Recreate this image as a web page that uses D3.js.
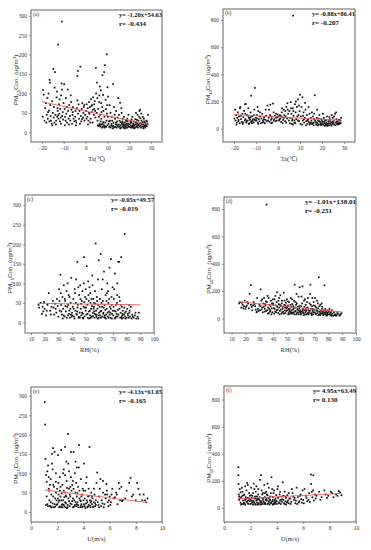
<!DOCTYPE html>
<html><head><meta charset="utf-8">
<script src="https://cdn.jsdelivr.net/npm/d3@7"></script>
<style>body{margin:0;background:#fff}svg{display:block}</style>
</head><body><svg id="c" width="371" height="550"></svg>
<script>
// ---------- data ----------
const taTicks=[-20,-10,0,10,20,30];
const rhTicks=[10,20,30,40,50,60,70,80,90,100];
const uTicks=[0,2,4,6,8,10];
const pm25Ticks=[0,50,100,150,200,250,300];
const pm10Ticks=[0,200,400,600,800];
const panelLabels=["(a)","(b)","(c)","(d)","(e)","(f)"];
const equations=["y= -1.20x+54.63","y= -0.88x+86.41","y= -0.05x+49.57","y= -1.01x+138.01","y= -4.13x+61.05","y= 4.95x+63.49"];
const rTexts=["r= -0.434","r= -0.207","r= -0.019","r= -0.251","r= -0.165","r= 0.130"];
const slopes=[-1.20,-0.88,-0.05,-1.01,-4.13,4.95];
const intercepts=[54.63,86.41,49.57,138.01,61.05,63.49];
const fitRanges=[[-20,29],[-20,29],[15,90],[15,90],[1.05,8.9],[1.05,8.9]];
const xTitles=["Ta(℃)","Ta(℃)","RH(%)","RH(%)","U(m/s)","U(m/s)"];
const pollutant=["2.5","10","2.5","10","2.5","10"];

const pointsA=[[-19.6,40],[-19.5,109],[-19.2,97],[-18.8,30],[-18.5,62],[-18,25],[-17.8,45],[-17.5,88],[-17.3,35],[-17,100],[-16.8,56],[-16.5,135],[-16.3,128],[-16.2,70],[-16,42],[-15.8,30],[-15.5,22],[-15.3,80],[-15,50],[-14.8,163],[-14.6,38],[-15.2,18],[-16.6,28],[-18.2,75],[-17.2,52],
[-14.5,65],[-14.2,115],[-14,155],[-13.8,45],[-13.5,30],[-13.3,90],[-13,40],[-12.8,55],[-12.6,226],[-12.4,35],[-12.2,72],[-12,48],[-11.8,28],[-11.6,60],[-11.4,38],[-11.2,95],[-11,126],[-10.9,285],[-10.7,42],[-10.5,52],[-10.3,33],[-10.1,75],[-13.6,20],[-12.9,62],[-11.9,85],[-14.3,25],[-13.1,105],[-10.8,110],[-11.3,22],[-12.5,44],
[-9.8,124],[-9.6,60],[-9.4,40],[-9.2,30],[-9,88],[-8.8,48],[-8.5,25],[-8.2,110],[-8,55],[-7.8,35],[-7.5,70],[-7.2,42],[-7,30],[-6.8,95],[-6.5,58],[-6.2,22],[-6,45],[-5.8,65],[-5.5,35],[-5.2,28],[-9.5,18],[-8.6,65],[-7.6,20],[-6.6,78],[-5.9,52],
[-4.8,40],[-4.5,30],[-4.2,25],[-4,62],[-3.8,145],[-3.5,158],[-3.2,72],[-3,35],[-2.8,55],[-2.4,169],[-2.2,42],[-2,28],[-1.8,60],[-1.5,75],[-1.2,38],[-1,50],[-0.8,65],[-0.5,30],[-0.2,45],[-4.4,18],[-3.4,48],[-2.6,22],[-1.6,34],[-0.6,70],[-4.6,55],[-3.7,82],
[0.2,55],[0.5,72],[0.8,40],[1,62],[1.3,30],[1.5,78],[1.8,48],[2,65],[2.3,35],[2.5,85],[2.8,52],[3,70],[3.2,25],[3.5,90],[3.8,45],[4,60],[4.2,80],[4.5,38],[4.7,166],[4.8,100],[1.1,20],[2.1,25],[3.3,58],[0.4,35],[1.6,50],[2.7,68],[3.9,72],[4.4,55],
[5.2,128],[5.4,88],[5.6,18],[5.8,60],[6,16],[6.2,78],[6.4,22],[6.5,118],[6.7,45],[6.8,15],[7,108],[7.2,35],[7.4,20],[7.6,65],[7.7,147],[7.9,14],[8,96],[8.2,55],[8.4,18],[8.5,155],[8.6,40],[8.8,173],[9,25],[9.2,84],[9.4,14],[9.7,201],[9.8,48],[10,116],[10,18],[5.5,30],[6.1,40],[6.9,28],[7.5,12],[8.1,26],[8.9,16],[9.6,30],[5.9,16],[6.6,19],[7.8,22],[8.7,12],[9.3,60],[6.3,95],[7.1,75],[9.9,70],[5.1,50],[7.3,52],
[10.3,92],[10.5,22],[10.8,14],[11,70],[11.2,30],[11.5,12],[11.8,18],[12,40],[12.3,15],[12.6,124],[12.8,25],[13,65],[13.2,13],[13.5,35],[13.8,20],[14,55],[14.2,12],[14.5,28],[14.8,16],[15,88],[10.2,40],[10.7,28],[11.4,50],[11.9,22],[12.2,30],[12.7,16],[13.3,45],[13.7,14],[14.3,20],[14.7,38],[11.1,15],[12.5,10],[13.9,25],
[15.2,20],[15.4,14],[15.6,30],[15.8,76],[16,18],[16.2,12],[16.4,62],[16.6,22],[16.8,15],[17,35],[17.2,20],[17.4,12],[17.6,40],[17.8,18],[18,25],[18.2,14],[18.4,30],[18.6,16],[18.8,22],[19,12],[19.2,28],[19.4,18],[19.6,45],[19.8,14],[15.3,45],[16.1,26],[16.9,28],[17.5,16],[18.3,20],[19.1,35],[15.9,10],[17.1,24],[18.7,12],[19.5,22],[16.5,50],[18.9,30],[17.9,10],
[20,20],[20.2,14],[20.4,30],[20.6,18],[20.8,12],[21,25],[21.2,16],[21.4,40],[21.6,12],[21.8,22],[22,15],[22.2,28],[22.4,18],[22.6,12],[22.8,34],[23,20],[23.2,14],[23.4,25],[23.6,16],[23.8,45],[24,12],[24.2,30],[24.4,20],[24.6,55],[24.8,15],[20.5,24],[21.1,33],[21.7,18],[22.3,10],[22.9,25],[23.5,32],[24.1,18],[24.5,40],[20.9,28],[23.1,50],[24.9,24],[22.1,20],[21.5,14],[23.7,22],
[25,58],[25.2,18],[25.4,12],[25.6,30],[25.8,22],[26,15],[26.2,40],[26.4,20],[26.6,14],[26.8,28],[27,18],[27.2,25],[27.4,12],[27.6,20],[27.8,30],[28,16],[28.3,22],[28.6,45],[25.5,48],[26.1,26],[26.7,35],[27.3,16],[28.1,28],[25.1,36],[26.5,10],[27.9,20]];

const pointsB=[[-19.5,140],[-19.3,60],[-19,100],[-18.7,45],[-18.5,80],[-18.2,120],[-18,55],[-17.7,90],[-17.4,40],[-17.1,160],[-16.8,70],[-16.5,50],[-16.2,110],[-16,35],[-15.7,85],[-15.4,130],[-15.1,60],[-15,180],[-19.8,75],[-18.9,30],[-17.9,65],[-16.9,95],[-15.9,45],[-17.3,150],
[-14.8,70],[-14.6,182],[-14.4,45],[-14.1,100],[-13.8,60],[-13.5,150],[-13.2,80],[-13,40],[-12.7,65],[-12.4,120],[-12.2,243],[-12,55],[-11.7,90],[-11.4,70],[-11.1,45],[-10.8,140],[-10.5,300],[-10.3,60],[-10.1,80],[-14.3,55],[-13.6,95],[-12.9,75],[-12.1,50],[-11.5,60],[-10.9,100],[-13.3,35],[-11.9,40],[-10.6,68],[-14.9,110],[-12.5,85],
[-9.8,60],[-9.5,100],[-9.2,45],[-9,130],[-8.7,70],[-8.4,55],[-8.1,90],[-7.8,40],[-7.5,75],[-7.2,110],[-6.9,60],[-6.6,50],[-6.3,85],[-6,40],[-5.7,65],[-5.4,95],[-5.1,55],[-9.6,75],[-8.9,35],[-8.2,120],[-7.1,45],[-6.4,70],[-5.6,140],[-9.3,160],
[-4.8,170],[-4.5,60],[-4.2,80],[-3.9,50],[-3.6,100],[-3.5,177],[-3.2,65],[-2.9,90],[-2.6,45],[-2.3,185],[-2,120],[-1.7,70],[-1.4,95],[-1.1,55],[-0.8,80],[-0.5,60],[-0.2,105],[-4.1,140],[-3.1,40],[-1.9,60],[-0.9,110],[-2.8,75],[-0.4,85],
[0.2,90],[0.5,60],[0.8,100],[1.1,75],[1.4,50],[1.7,120],[2,85],[2.3,65],[2.6,140],[2.9,100],[3.2,55],[3.5,90],[3.8,160],[4.1,75],[4.3,187],[4.6,110],[4.9,60],[1.2,95],[2.1,40],[3.3,130],[0.7,70],[3.7,45],[4.4,140],[2.7,80],[1.9,150],
[5.2,130],[5.5,80],[5.8,195],[6.1,110],[6.4,60],[6.7,150],[6.9,832],[7.1,95],[7.4,45],[7.7,180],[8,120],[8.3,70],[8.6,160],[9.1,216],[9.3,100],[9.6,55],[10,250],[5.4,40],[6.2,35],[7,130],[7.9,40],[8.8,90],[9.8,130],[5.9,150],[6.6,70],[8.1,200],[9.5,170],[7.5,60],[10.2,35],[9,60],[6.8,30],
[10.4,90],[10.7,160],[11.1,231],[11.3,60],[11.6,120],[11.9,45],[12.2,80],[12.5,140],[12.8,55],[13.1,100],[13.4,35],[13.7,70],[14,50],[14.3,110],[14.6,40],[14.9,80],[10.9,30],[11.8,70],[12.7,25],[13.5,60],[14.4,30],[15,45],[12.3,190],[13.9,160],[11.4,95],
[15.2,60],[15.5,35],[15.8,90],[16.1,45],[16.4,70],[16.7,246],[17,50],[17.3,30],[17.6,80],[17.9,40],[18.2,60],[18.5,30],[18.8,100],[19.1,50],[19.4,40],[19.7,70],[20,35],[15.4,120],[16.2,25],[16.9,60],[17.5,45],[18.1,25],[18.7,55],[19.3,30],[16.5,110],[19.9,60],[15.9,40],[17.8,140],[18.4,75],[19.6,28],
[20.2,50],[20.5,30],[20.8,80],[21.1,40],[21.4,60],[21.7,25],[22,45],[22.3,90],[22.6,35],[22.9,55],[23.2,25],[23.5,70],[23.8,40],[24.1,30],[24.4,100],[24.7,50],[25,35],[20.4,110],[21.2,20],[21.9,65],[22.5,20],[23.1,40],[23.7,55],[24.3,22],[24.9,80],[20.9,50],[22.2,30],[23.4,85],[24.6,45],[21.6,35],
[25.3,60],[25.6,30],[25.9,110],[26.2,45],[26.5,70],[26.8,35],[27.1,55],[27.4,40],[27.7,65],[28,45],[28.3,60],[28.7,80],[25.5,90],[26.1,25],[26.7,50],[27.3,30],[27.9,35],[25.1,45],[26.4,120],[28.5,40]];

const pointsC=[[15.5,45],[17,50],[18,22],[18.5,40],[19,28],[20,35],[21,18],[22,45],[23,75],[24,30],[25,40],[26,55],[27,20],[28,35],[28.5,25],[29,60],[30,15],[19.5,52],[24.5,20],[26.5,38],[29.5,42],[21.5,30],[27.5,48],[16,38],
[30.5,85],[31,30],[31.5,122],[32,45],[32.5,20],[33,65],[33.5,35],[34,95],[34.5,15],[35,55],[35.5,28],[36,80],[36.5,40],[37,18],[37.5,70],[38,30],[38.5,12],[39,50],[39.5,114],[40,25],[30.8,55],[32.2,28],[33.8,18],[35.2,42],[36.8,100],[37.8,22],[38.8,35],[39.8,15],[34.8,60],[31.8,75],[36.2,12],[37.2,45],[33.2,10],[38.2,65],[39.2,20],
[40.5,40],[41,60],[41.5,15],[42,85],[42.5,30],[43,110],[43.5,20],[43.9,155],[44.3,45],[44.8,12],[45.2,70],[45.6,25],[46,95],[46.4,35],[46.8,18],[47.2,55],[47.6,80],[48,22],[48.4,40],[48.8,167],[49.2,15],[49.6,65],[50,30],[40.2,18],[41.8,10],[42.8,50],[43.8,28],[44.6,90],[45.8,12],[46.6,48],[47.4,25],[48.6,100],[49.4,38],[50,85],[41.2,35],[43.2,22],[45,14],[46.2,60],[47.8,12],[49,52],[42.2,75],[44,38],[48.2,10],
[50.5,20],[50.8,144],[51.2,45],[51.6,12],[52,70],[52.4,28],[52.8,90],[53.2,18],[53.6,50],[54,35],[54.4,15],[54.8,120],[55.2,25],[55.6,60],[56,40],[56.4,12],[56.8,80],[57.3,202],[57.6,30],[58,20],[58.4,55],[58.8,10],[59.2,45],[59.5,159],[59.8,25],[50.2,38],[51.4,22],[52.2,55],[53,30],[53.8,12],[54.6,42],[55.4,16],[56.2,28],[57,48],[57.8,14],[58.6,35],[59.4,18],[51.8,105],[53.4,75],[55,95],[56.6,22],[58.2,65],[59,110],[52.6,10],[54.2,60],[55.8,35],[57.4,20],[59.6,12],[50.6,60],[56.1,50],
[60.2,40],[60.6,18],[61,175],[61.4,30],[61.8,85],[62.2,15],[62.6,55],[63,25],[63.4,130],[63.8,45],[64.2,12],[64.6,70],[65,20],[65.4,35],[65.8,100],[66.2,15],[66.6,50],[67,28],[67.4,140],[67.8,40],[68.2,12],[68.5,162],[68.9,65],[69.3,22],[69.7,90],[60.4,60],[61.2,12],[62,40],[62.8,22],[63.6,14],[64.4,32],[65.2,55],[66,25],[66.8,12],[67.6,20],[68.4,35],[69.2,10],[60.8,28],[62.4,110],[64,18],[65.6,75],[67.2,60],[69,45],[63.2,38],[66.4,80],[68,25],[61.6,50],[64.8,10],[69.8,30],
[70.2,18],[70.6,60],[71,30],[71.4,125],[71.8,12],[72.2,45],[72.6,22],[73,70],[73.4,15],[73.8,155],[74.4,155],[74.8,35],[75.2,12],[75.6,25],[76,167],[76.4,40],[76.8,18],[77.2,30],[77.6,12],[78,20],[78.5,226],[79,15],[79.5,28],[80,12],[70.4,40],[71.2,10],[72,28],[72.8,50],[73.6,32],[74,20],[75,55],[76.2,14],[77,22],[78.2,38],[79.2,10],[70.8,85],[72.4,15],[74.6,65],[76.6,10],[78.8,25],[73.2,100],[75.8,45],
[80.5,35],[81,18],[81.5,12],[82,25],[82.5,15],[83,40],[83.5,10],[84,20],[85,12],[86,18],[87,10],[88,15],[89,25],[80.8,22],[82.2,30],[84.5,15],[86.5,25],[88.5,10],[81.8,45]];

const pointsD=[[15.5,110],[16,120],[17,80],[18,100],[19,90],[19.5,130],[20,70],[21,95],[22,110],[23,181],[23.9,244],[24.5,85],[25,60],[26,120],[27,90],[28,45],[28.5,150],[29,70],[30,100],[17.5,115],[20.5,85],[22.5,75],[25.5,95],[27.5,65],[29.5,55],[18.5,75],[21.5,120],[26.5,105],[24,100],[28.2,50],
[30.5,60],[31,213],[31.5,130],[32,80],[32.5,45],[33,110],[33.5,150],[34,70],[34.5,95],[35,55],[35.3,832],[35.6,120],[36,165],[36.5,80],[37,40],[37.5,100],[38,60],[38.5,130],[39,75],[39.5,45],[40,110],[30.8,90],[32.2,140],[33.8,50],[34.8,125],[36.2,35],[37.2,70],[38.2,90],[39.2,110],[31.7,65],[33.3,85],[35.8,60],[37.8,50],[39.8,140],[36.8,150],[34.2,105],[38.8,30],
[40.5,75],[41,140],[41.5,50],[42,95],[42.5,120],[42.9,191],[43.3,65],[43.7,40],[44.1,105],[44.5,80],[44.9,55],[45.3,170],[45.7,90],[46.1,35],[46.5,130],[46.9,70],[47.3,50],[47.7,188],[48.1,100],[48.5,60],[48.9,40],[49.3,115],[49.7,75],[50,140],[40.2,100],[41.2,70],[42.2,45],[43,85],[43.9,130],[44.7,30],[45.5,65],[46.3,110],[47.1,85],[47.9,35],[48.7,80],[49.5,55],[41.7,165],[44.3,150],[46.7,45],[49,95],[42.7,60],[45,100],[48.3,130],[40.8,35],
[50.4,60],[50.8,95],[51.2,40],[51.6,120],[52,70],[52.4,50],[52.8,150],[53.2,85],[53.6,35],[54,105],[54.4,65],[54.8,45],[55.2,130],[55.6,247],[56,80],[56.4,55],[56.8,30],[57.2,110],[57.6,70],[58,45],[58.4,160],[58.8,90],[59.2,228],[59.6,60],[60,35],[50.2,80],[51,30],[51.8,55],[52.6,100],[53.4,60],[54.2,40],[55,75],[55.8,50],[56.6,100],[57.4,40],[58.2,60],[59,75],[59.8,45],[50.6,125],[52.2,35],[53.8,140],[55.4,30],[57,180],[58.6,30],[54.6,90],[56.2,120],[57.8,85],[59.4,50],[51.4,70],[53,45],
[60.4,90],[60.8,50],[61.3,235],[61.6,70],[62,40],[62.4,130],[62.8,60],[63.2,30],[63.6,100],[64,55],[64.4,75],[64.8,35],[65.2,150],[65.6,60],[66,45],[66.4,110],[67,247],[67.4,70],[67.8,40],[68.2,90],[68.6,55],[69,30],[69.4,120],[69.8,65],[60.2,30],[61,110],[61.8,45],[62.6,85],[63.4,45],[64.2,30],[65,80],[65.8,30],[66.6,55],[67.6,35],[68.4,150],[69.2,45],[60.6,160],[62.2,25],[63.8,70],[65.4,40],[66.8,180],[68,25],[69.6,95],[64.6,120],[61.4,60],[63,140],[67.2,100],[68.8,70],
[70.2,45],[70.6,90],[71,30],[71.4,60],[71.8,130],[72.2,40],[72.6,75],[73.1,301],[73.4,50],[73.8,30],[74.2,100],[74.6,55],[75,35],[75.4,70],[75.8,40],[76.2,25],[76.6,60],[77.2,242],[77.6,45],[78,30],[78.4,55],[78.8,35],[79.2,25],[79.6,45],[80,30],[70.4,150],[71.2,80],[72,55],[72.8,25],[73.6,90],[74.4,40],[75.2,110],[76,50],[76.8,30],[77.8,70],[78.6,20],[79.4,60],[70.8,35],[72.4,110],[74,25],[75.6,85],[77,40],[79,40],
[80.5,50],[81,30],[81.5,40],[82,25],[82.5,60],[83,35],[83.5,20],[84,45],[85,30],[86,25],[87,35],[88,20],[89,30],[89.5,40],[80.8,70],[82.2,20],[84.5,25],[86.5,40],[88.5,28],[81.8,45],[85.5,20]];

const pointsE=[[1.05,284],[1.08,226],[1.1,137],[1.15,95],[1.2,78],[1.25,20],[1.3,120],[1.35,60],[1.4,30],[1.45,15],[1.5,85],[1.55,45],[1.6,125],[1.65,22],[1.68,165],[1.7,70],[1.75,12],[1.8,155],[1.85,35],[1.9,100],[1.95,18],[1.2,40],[1.3,15],[1.4,55],[1.5,25],[1.6,12],[1.7,40],[1.8,20],[1.9,50],[1.35,90],[1.55,12],[1.75,65],[1.95,30],[1.15,18],[1.45,70],[1.65,110],[1.85,14],[1.25,105],[1.6,150],[1.5,14],[1.9,78],
[2,60],[2.06,147],[2.1,25],[2.15,12],[2.2,90],[2.25,40],[2.3,160],[2.35,18],[2.4,70],[2.45,30],[2.5,110],[2.55,14],[2.59,168],[2.62,50],[2.67,22],[2.72,80],[2.75,10],[2.82,202],[2.85,35],[2.9,60],[2.95,15],[2.0,20],[2.1,45],[2.2,14],[2.3,30],[2.4,12],[2.5,55],[2.6,25],[2.7,40],[2.8,18],[2.9,28],[2.05,35],[2.25,65],[2.45,100],[2.65,12],[2.85,125],[2.15,30],[2.35,48],[2.55,38],[2.75,62],[2.95,45],[2.4,20],[2.6,95],[2.8,12],[2.2,55],[2.7,130],[2.5,18],[2.9,105],[2.3,12],[2.1,75],[2.65,42],
[3,40],[3.05,155],[3.1,20],[3.15,70],[3.2,12],[3.25,155],[3.3,30],[3.35,100],[3.4,50],[3.45,15],[3.5,115],[3.55,25],[3.6,65],[3.66,173],[3.7,35],[3.75,12],[3.8,85],[3.85,20],[3.9,45],[3.95,14],[3.0,22],[3.1,55],[3.2,35],[3.3,14],[3.4,25],[3.5,40],[3.6,18],[3.7,55],[3.8,28],[3.9,12],[3.05,90],[3.25,60],[3.45,75],[3.65,115],[3.85,40],[3.15,28],[3.35,18],[3.55,48],[3.75,30],[3.95,60],[3.2,80],[3.6,12],[3.4,130],[3.8,16],[3.0,65],[3.5,20],
[4,30],[4.05,125],[4.1,15],[4.15,55],[4.2,22],[4.25,90],[4.3,12],[4.35,40],[4.4,18],[4.47,168],[4.5,30],[4.55,12],[4.6,50],[4.65,20],[4.7,35],[4.75,14],[4.8,25],[4.85,45],[4.9,15],[4.95,30],[4.0,55],[4.1,35],[4.2,75],[4.3,25],[4.4,60],[4.5,16],[4.6,28],[4.8,60],[4.9,22],[4.15,10],[4.45,42],[4.75,12],[4.25,30],[4.65,40],[4.05,20],[4.35,14],[4.55,24],[4.95,18],
[5,75],[5.05,102],[5.1,25],[5.2,40],[5.3,85],[5.35,15],[5.4,30],[5.5,50],[5.6,20],[5.7,35],[5.75,72],[5.8,45],[5.9,15],[5.95,30],[5.15,18],[5.25,60],[5.45,22],[5.55,12],[5.65,45],[5.85,25],[5.5,80],[5.2,12],[5.8,55],
[6,40],[6.1,25],[6.2,60],[6.3,35],[6.5,50],[6.6,20],[6.7,75],[6.8,30],[6.9,65],[6.15,45],[6.4,38],[6.75,60],[6.95,28],[6.05,18],[6.55,45],
[7.2,35],[7.5,75],[7.6,88],[7.8,45],[8,30],[8.1,75],[8.3,45],[8.5,30],[8.6,45],[8.8,25],[8.9,35],[7.3,55],[7.7,40],[8.2,60],[8.7,30],[7.0,30]];

const pointsF=[[1.09,301],[1.09,242],[1.1,178],[1.12,100],[1.15,60],[1.2,140],[1.25,40],[1.3,80],[1.35,30],[1.4,120],[1.45,55],[1.5,95],[1.55,35],[1.6,160],[1.65,65],[1.7,45],[1.75,185],[1.8,75],[1.85,30],[1.9,110],[1.95,50],[1.2,70],[1.3,25],[1.4,90],[1.5,40],[1.6,60],[1.7,130],[1.8,35],[1.9,70],[1.35,150],[1.55,100],[1.75,50],[1.95,90],[1.25,115],[1.45,30],[1.65,80],[1.85,55],[1.15,85],[1.6,25],[1.8,170],
[2,60],[2.05,150],[2.1,35],[2.15,90],[2.2,45],[2.25,180],[2.3,70],[2.35,30],[2.4,120],[2.45,55],[2.5,85],[2.55,25],[2.6,140],[2.65,65],[2.73,208],[2.8,242],[2.85,40],[2.9,100],[2.95,60],[2.0,30],[2.1,75],[2.2,110],[2.3,40],[2.4,25],[2.5,60],[2.6,35],[2.7,80],[2.8,50],[2.9,30],[2.05,95],[2.25,50],[2.45,160],[2.65,28],[2.85,130],[2.15,45],[2.35,85],[2.55,70],[2.75,40],[2.95,110],[2.3,140],[2.7,55],[2.2,25],[2.6,100],[2.4,70],[2.8,25],[2.5,40],[2.9,75],[2.1,55],
[3,45],[3.05,170],[3.1,80],[3.15,30],[3.2,120],[3.25,55],[3.3,95],[3.35,35],[3.4,150],[3.45,65],[3.5,40],[3.6,227],[3.55,110],[3.65,50],[3.7,80],[3.75,30],[3.8,130],[3.85,60],[3.9,40],[3.95,95],[3.0,75],[3.1,40],[3.2,65],[3.3,30],[3.4,50],[3.5,85],[3.6,35],[3.7,60],[3.8,45],[3.9,70],[3.05,30],[3.25,100],[3.45,25],[3.65,140],[3.85,30],[3.15,60],[3.35,75],[3.55,40],[3.75,110],[3.95,50],[3.3,180],[3.7,25],[3.5,60],[3.1,110],
[4,50],[4.05,140],[4.1,75],[4.15,35],[4.2,100],[4.25,55],[4.3,30],[4.35,85],[4.4,45],[4.45,190],[4.5,60],[4.55,35],[4.6,120],[4.65,50],[4.7,75],[4.75,40],[4.8,95],[4.85,55],[4.9,35],[4.95,70],[4.0,30],[4.2,40],[4.4,65],[4.6,30],[4.8,45],[4.1,160],[4.3,60],[4.5,90],[4.7,25],[4.9,110],[4.25,120],[4.65,85],
[5,70],[5.1,45],[5.2,110],[5.3,60],[5.4,35],[5.5,150],[5.6,80],[5.7,50],[5.8,100],[5.9,40],[5.95,130],[5.05,30],[5.25,85],[5.45,55],[5.65,40],[5.85,65],[5.15,140],[5.55,30],[5.75,90],[5.35,75],
[6,60],[6.1,140],[6.2,90],[6.3,50],[6.45,110],[6.59,247],[6.77,242],[6.6,178],[6.65,120],[6.7,80],[6.8,55],[6.9,100],[6.05,35],[6.25,75],[6.5,45],[6.75,130],[6.95,70],[6.4,60],
[7,90],[7.2,120],[7.4,80],[7.6,130],[7.7,100],[7.9,90],[8.1,120],[8.3,80],[8.5,100],[8.7,125],[8.9,95],[7.3,60],[7.8,75],[8.2,110],[8.6,90],[8.8,115]];

const allPoints=[pointsA,pointsB,pointsC,pointsD,pointsE,pointsF];
const xTickSets=[taTicks,taTicks,rhTicks,rhTicks,uTicks,uTicks];
const yTickSets=[pm25Ticks,pm10Ticks,pm25Ticks,pm10Ticks,pm25Ticks,pm10Ticks];

// ---------- layout ----------
const layout=[
 {x0:31,x1:162,y0:10,y1:142,xd:[-25,35],yd:[-25,315]},
 {x0:223,x1:355,y0:9,y1:142,xd:[-25,35],yd:[-98,881]},
 {x0:25,x1:154,y0:195,y1:333,xd:[5.6,100],yd:[-27,326]},
 {x0:224,x1:356,y0:197,y1:333,xd:[4.5,100],yd:[-106,888]},
 {x0:31,x1:162,y0:387,y1:522,xd:[0,10],yd:[-26,323]},
 {x0:224,x1:356,y0:386,y1:522,xd:[0,10],yd:[-103,900]}
];
const serif="'Liberation Serif','Times New Roman',serif";
const sans="'Liberation Sans',Arial,sans-serif";
const svg=d3.select("#c");

layout.forEach((L,i)=>{
  const x=d3.scaleLinear().domain(L.xd).range([L.x0,L.x1]);
  const y=d3.scaleLinear().domain(L.yd).range([L.y1,L.y0]);
  const g=svg.append("g");
  g.append("rect").attr("x",L.x0).attr("y",L.y0).attr("width",L.x1-L.x0).attr("height",L.y1-L.y0)
   .attr("fill","none").attr("stroke","#555").attr("stroke-width",0.9);
  const ax=g.append("g").attr("transform",`translate(0,${L.y1})`)
   .call(d3.axisBottom(x).tickValues(xTickSets[i]).tickSize(2).tickPadding(2.5));
  const ay=g.append("g").attr("transform",`translate(${L.x0},0)`)
   .call(d3.axisLeft(y).tickValues(yTickSets[i]).tickSize(2).tickPadding(2));
  [ax,ay].forEach(a=>{
    a.select(".domain").remove();
    a.selectAll("line").attr("stroke","#555").attr("stroke-width",0.6);
    a.selectAll("text").attr("font-family",serif).attr("font-size",5.5).attr("fill","#333");
  });
  g.append("g").selectAll("rect").data(allPoints[i]).join("rect")
   .attr("x",d=>x(d[0])-0.85).attr("y",d=>y(d[1])-0.85).attr("width",1.7).attr("height",1.7).attr("fill","#111");
  const fr=fitRanges[i];
  g.append("line").attr("x1",x(fr[0])).attr("x2",x(fr[1]))
   .attr("y1",y(slopes[i]*fr[0]+intercepts[i])).attr("y2",y(slopes[i]*fr[1]+intercepts[i]))
   .attr("stroke","#f0565a").attr("stroke-width",0.9);
  g.append("text").attr("x",L.x0+2).attr("y",L.y0+6).attr("font-family",serif).attr("font-size",5.5).attr("fill","#333").text(panelLabels[i]);
  const eqW=i===3?51:43;
  const eqX=L.x1-eqW;
  g.append("text").attr("x",eqX).attr("y",L.y0+7).attr("font-family",serif).attr("font-weight","bold").attr("font-size",7)
   .attr("textLength",eqW).attr("lengthAdjust","spacingAndGlyphs").attr("fill","#111").text(equations[i]);
  g.append("text").attr("x",eqX).attr("y",L.y0+16).attr("font-family",serif).attr("font-weight","bold").attr("font-size",7)
   .attr("fill","#111").text(rTexts[i]);
  g.append("text").attr("x",(L.x0+L.x1)/2).attr("y",L.y1+19).attr("text-anchor","middle")
   .attr("font-family",serif).attr("font-size",6.5).attr("fill","#333").text(xTitles[i]);
  const yt=g.append("text").attr("transform",`translate(${L.x0-13},${(L.y0+L.y1)/2+4}) rotate(-90)`)
   .attr("text-anchor","middle").attr("font-family",sans).attr("font-size",6.2).attr("fill","#333");
  yt.append("tspan").text("PM");
  yt.append("tspan").attr("font-size",4.4).attr("dy",1.6).text(pollutant[i]);
  yt.append("tspan").attr("dy",-1.6).text("Con. (ug/m");
  yt.append("tspan").attr("font-size",4.4).attr("dy",-2.4).text("3");
  yt.append("tspan").attr("dy",2.4).text(")");
});
</script>
</body></html>
